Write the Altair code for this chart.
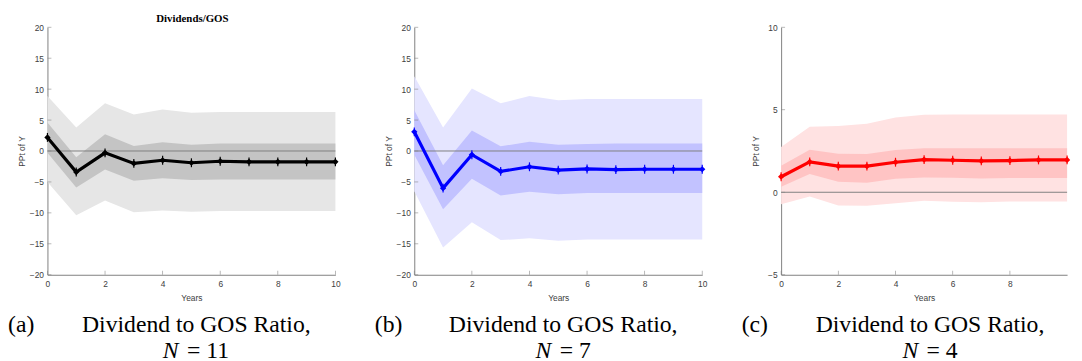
import altair as alt
import pandas as pd

years = list(range(11))
x_ticks = [0, 2, 4, 6, 8, 10]

# Panel (a): N = 11 (black)
a_irf = [2.2, -3.4, -0.3, -2.0, -1.5, -1.9, -1.65, -1.75, -1.75, -1.75, -1.75]
a_hi68 = [4.6, -1.0, 2.7, 0.8, 1.4, 1.0, 1.2, 1.2, 1.2, 1.2, 1.2]
a_lo68 = [-0.3, -5.9, -3.0, -4.8, -4.4, -4.7, -4.6, -4.6, -4.6, -4.6, -4.6]
a_hi90 = [8.9, 3.8, 7.7, 5.9, 6.7, 6.2, 6.3, 6.3, 6.3, 6.3, 6.3]
a_lo90 = [-5.0, -10.4, -8.0, -9.9, -9.6, -9.8, -9.7, -9.7, -9.7, -9.7, -9.7]

# Panel (b): N = 7 (blue)
b_irf = [3.1, -6.0, -0.6, -3.3, -2.55, -3.1, -2.9, -3.0, -2.95, -2.95, -2.95]
b_hi68 = [6.6, -2.3, 3.3, 0.75, 1.5, 1.0, 1.15, 1.2, 1.2, 1.2, 1.2]
b_lo68 = [-0.6, -9.4, -4.5, -7.2, -6.6, -7.0, -6.8, -6.8, -6.8, -6.8, -6.8]
b_hi90 = [12.1, 3.8, 10.1, 7.7, 8.9, 8.2, 8.4, 8.4, 8.4, 8.4, 8.4]
b_lo90 = [-6.5, -15.6, -11.5, -14.4, -14.1, -14.5, -14.3, -14.3, -14.3, -14.3, -14.3]

# Panel (c): N = 4 (red)
c_irf = [0.94, 1.84, 1.58, 1.58, 1.82, 1.98, 1.94, 1.9, 1.92, 1.96, 1.96]
c_hi68 = [1.6, 2.58, 2.34, 2.32, 2.56, 2.66, 2.66, 2.66, 2.66, 2.66, 2.66]
c_lo68 = [0.34, 1.1, 0.64, 0.58, 0.82, 0.9, 0.88, 0.84, 0.86, 0.86, 0.86]
c_hi90 = [2.74, 3.97, 4.01, 4.15, 4.53, 4.69, 4.71, 4.71, 4.71, 4.71, 4.71]
c_lo90 = [-0.72, -0.26, -0.8, -0.82, -0.66, -0.52, -0.58, -0.6, -0.56, -0.56, -0.56]

caption_main = "Dividend to GOS Ratio,"
panel_title = "Dividends/GOS"
y_title = "PPt of Y"
x_title = "Years"

H = 251
AXIS_GRAY = "#808080"
TEXT_GRAY = "#404040"
SERIF = "Liberation Serif"
SANS = "Liberation Sans"
CAP_SIZE = 24


def panel(irf, lo68, hi68, lo90, hi90, line_color, c90, c68, ydom, yvals,
          letter, n, width, xvals, title=None):
    df = pd.DataFrame({"year": years, "irf": irf, "lo68": lo68,
                       "hi68": hi68, "lo90": lo90, "hi90": hi90})
    xscale = alt.Scale(domain=[0, 10], nice=False, zero=False)
    yscale = alt.Scale(domain=ydom, nice=False, zero=False)
    xaxis = alt.Axis(values=xvals, format="d", title=x_title, labelPadding=5,
                     titlePadding=6, labelFlush=False)
    yaxis = alt.Axis(values=yvals, format="d", title=y_title, labelPadding=4,
                     titleX=-26, titleY=H / 2, titleAngle=270,
                     titleAlign="center", titleBaseline="middle")
    X = alt.X("year:Q", scale=xscale, axis=xaxis)

    def Y(f):
        return alt.Y(f + ":Q", scale=yscale, axis=yaxis)

    base = alt.Chart(df)
    outer = base.mark_area(color=c90, opacity=1).encode(x=X, y=Y("lo90"), y2="hi90:Q")
    inner = base.mark_area(color=c68, opacity=1).encode(x=X, y=Y("lo68"), y2="hi68:Q")
    zero = alt.Chart(pd.DataFrame({"zero": [0]})).mark_rule(
        color=AXIS_GRAY, strokeWidth=1).encode(y=Y("zero"))
    line = base.mark_line(color=line_color, strokeWidth=3.2).encode(x=X, y=Y("irf"))
    pts = base.mark_point(shape="diamond", filled=True, size=40, opacity=1,
                          color=line_color).encode(x=X, y=Y("irf"))
    spikes = base.mark_tick(orient="vertical", size=9, thickness=1.2,
                            color=line_color, opacity=1).encode(x=X, y=Y("irf"))

    # inward ticks (MATLAB style)
    xt = alt.Chart(pd.DataFrame({"t": xvals})).mark_tick(
        orient="vertical", color=AXIS_GRAY, size=4, thickness=0.8).encode(
        x=alt.X("t:Q", scale=xscale, axis=xaxis), y=alt.value(H - 2))
    yt = alt.Chart(pd.DataFrame({"t": yvals})).mark_tick(
        orient="horizontal", color=AXIS_GRAY, size=4, thickness=0.8).encode(
        y=alt.Y("t:Q", scale=yscale, axis=yaxis), x=alt.value(2))

    one = pd.DataFrame({"k": [0]})
    cx = 151
    y1 = H + 58
    y2 = H + 84
    lab = alt.Chart(one).mark_text(text=f"({letter})", font=SERIF, fontSize=CAP_SIZE,
                                   align="left", baseline="alphabetic", color="black"
                                   ).encode(x=alt.value(-40), y=alt.value(y1))
    cap = alt.Chart(one).mark_text(text=caption_main, font=SERIF, fontSize=CAP_SIZE,
                                   align="center", baseline="alphabetic", color="black"
                                   ).encode(x=alt.value(cx), y=alt.value(y1))
    rest = "= " + str(n)
    s = CAP_SIZE
    n_w = 0.72 * s
    gap = 0.3 * s
    rest_w = (0.564 + 0.25 + 0.5 * len(str(n))) * s
    total = n_w + gap + rest_w
    nx = cx - total / 2
    nlab = alt.Chart(one).mark_text(text="N", font=SERIF, fontSize=CAP_SIZE, fontStyle="italic",
                                    align="left", baseline="alphabetic", color="black"
                                    ).encode(x=alt.value(nx), y=alt.value(y2))
    nrest = alt.Chart(one).mark_text(text=rest, font=SERIF, fontSize=CAP_SIZE,
                                     align="left", baseline="alphabetic", color="black"
                                     ).encode(x=alt.value(nx + n_w + gap), y=alt.value(y2))
    layers = [outer, inner, zero, line, spikes, pts, xt, yt, lab, cap, nlab, nrest]
    if title:
        t = alt.Chart(one).mark_text(text=title, font=SERIF, fontSize=11,
                                     fontWeight="bold", align="center", baseline="middle",
                                     color="black").encode(x=alt.value(147), y=alt.value(-8))
        layers.append(t)
    return alt.layer(*layers).properties(width=width, height=H)


pa = panel(a_irf, a_lo68, a_hi68, a_lo90, a_hi90, "#000000", "#e6e6e6", "#c4c4c4",
           [-20, 20], [-20, -15, -10, -5, 0, 5, 10, 15, 20], "a", 11, 292, x_ticks,
           title=panel_title)
pb = panel(b_irf, b_lo68, b_hi68, b_lo90, b_hi90, "#0000ff", "#e5e5ff", "#c2c2ff",
           [-20, 20], [-20, -15, -10, -5, 0, 5, 10, 15, 20], "b", 7, 292, x_ticks)
pc = panel(c_irf, c_lo68, c_hi68, c_lo90, c_hi90, "#ff0000", "#ffe2e2", "#ffc4c4",
           [-5, 10], [-5, 0, 5, 10], "c", 4, 290, [0, 2, 4, 6, 8])

chart = alt.hconcat(pa, pb, pc, spacing=80, bounds="flush").configure_view(
    stroke=None
).configure_axis(
    grid=False, ticks=False, domainColor=AXIS_GRAY, domainWidth=1,
    labelFont=SANS, labelFontSize=8.5, labelColor=TEXT_GRAY,
    titleFont=SANS, titleFontSize=8.5, titleFontWeight="normal", titleColor=TEXT_GRAY
).properties(padding={"left": 0, "top": 3, "right": 0, "bottom": 0},
             background="white")

chart.save("out.html", embed_options={"renderer": "svg", "actions": False})
